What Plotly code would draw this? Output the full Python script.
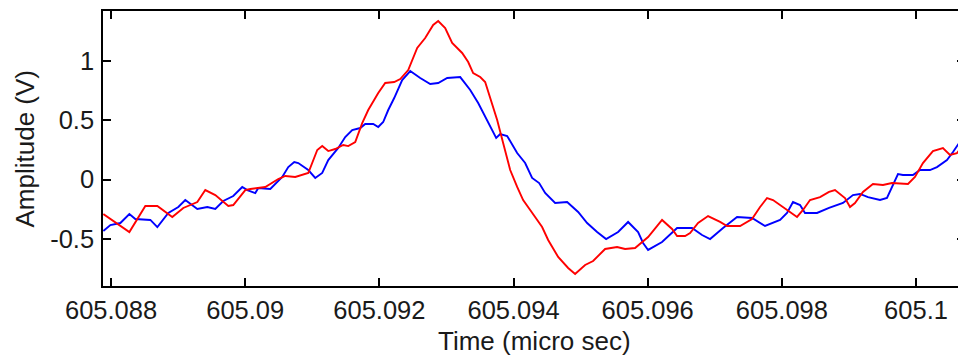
import plotly.graph_objects as go

# Time (micro sec) and amplitude (V) for the red trace
t_red = [605.087885, 605.088273, 605.088511, 605.08869, 605.088913, 605.089077, 605.089286,
         605.089405, 605.089554, 605.089748, 605.089822, 605.090001, 605.090076, 605.090299,
         605.090493, 605.090597, 605.090746, 605.09094, 605.091074, 605.091148, 605.091238,
         605.091342, 605.091461, 605.091536, 605.09164, 605.091744, 605.091834, 605.091983,
         605.092087, 605.092221, 605.092311, 605.09243, 605.092564, 605.092683, 605.092802,
         605.092877, 605.092981, 605.093085, 605.093234, 605.093324, 605.093398, 605.093503,
         605.093577, 605.093652, 605.093756, 605.093845, 605.09395, 605.094054, 605.094143,
         605.094248, 605.094367, 605.094426, 605.094516, 605.094665, 605.094814, 605.094918,
         605.095067, 605.095186, 605.095365, 605.095544, 605.095663, 605.095812, 605.096006,
         605.096214, 605.096363, 605.096438, 605.096557, 605.096632, 605.096751, 605.0969,
         605.097079, 605.097183, 605.097377, 605.097555, 605.097675, 605.097779, 605.097868,
         605.098077, 605.098226, 605.098315, 605.09842, 605.098569, 605.098703, 605.098792,
         605.098941, 605.099016, 605.09909, 605.099209, 605.099358, 605.099507, 605.099641,
         605.09988, 605.099984, 605.100103, 605.100252, 605.100401, 605.100506, 605.10061,
         605.100699, 605.100744]
v_red = [-0.291, -0.443, -0.223, -0.223, -0.316, -0.240, -0.190,
         -0.089, -0.131, -0.223, -0.215, -0.089, -0.080, -0.063,
         0.004, 0.030, 0.021, 0.055, 0.249, 0.282, 0.240,
         0.257, 0.291, 0.282, 0.316, 0.476, 0.586, 0.729,
         0.814, 0.822, 0.847, 0.923, 1.109, 1.193, 1.303,
         1.336, 1.277, 1.151, 1.067, 0.991, 0.898, 0.864,
         0.822, 0.687, 0.502, 0.308, 0.080, -0.063, -0.173,
         -0.257, -0.358, -0.401, -0.510, -0.653, -0.746, -0.797,
         -0.721, -0.687, -0.586, -0.569, -0.586, -0.578, -0.485,
         -0.341, -0.417, -0.476, -0.476, -0.451, -0.367, -0.308,
         -0.358, -0.392, -0.392, -0.333, -0.232, -0.156, -0.173,
         -0.257, -0.316, -0.257, -0.173, -0.148, -0.105, -0.089,
         -0.156, -0.232, -0.198, -0.105, -0.038, -0.046, -0.030,
         -0.038, 0.021, 0.139, 0.240, 0.266, 0.207, 0.223,
         0.291, 0.316]

# Time (micro sec) and amplitude (V) for the blue trace
t_blue = [605.087885, 605.08799, 605.088139, 605.088273, 605.088362, 605.088586, 605.08869,
          605.088854, 605.089003, 605.089107, 605.089286, 605.089435, 605.089554, 605.089673,
          605.089822, 605.089956, 605.090031, 605.09015, 605.090195, 605.090374, 605.090552,
          605.090642, 605.090731, 605.090791, 605.09094, 605.091044, 605.091148, 605.091238,
          605.091387, 605.091491, 605.091595, 605.091715, 605.091789, 605.091908, 605.091983,
          605.092057, 605.092132, 605.092221, 605.09234, 605.09246, 605.092609, 605.092758,
          605.092877, 605.093011, 605.093205, 605.093354, 605.093473, 605.093577, 605.093681,
          605.093741, 605.093801, 605.093905, 605.094054, 605.094173, 605.094277, 605.094382,
          605.094471, 605.09462, 605.094799, 605.094963, 605.095097, 605.095246, 605.09538,
          605.095559, 605.095708, 605.095857, 605.095931, 605.096006, 605.096214, 605.096334,
          605.096438, 605.096557, 605.096661, 605.09681, 605.09693, 605.097123, 605.097332,
          605.097555, 605.097749, 605.097973, 605.098077, 605.098166, 605.098271, 605.098345,
          605.098524, 605.098703, 605.098911, 605.09906, 605.099165, 605.099284, 605.099463,
          605.099567, 605.099641, 605.099731, 605.099805, 605.099954, 605.100059, 605.100208,
          605.100312, 605.100461, 605.100551, 605.100655, 605.100744]
v_blue = [-0.434, -0.384, -0.367, -0.291, -0.333, -0.341, -0.401,
          -0.282, -0.232, -0.173, -0.249, -0.232, -0.249, -0.181,
          -0.139, -0.063, -0.089, -0.114, -0.072, -0.080, 0.021,
          0.105, 0.148, 0.139, 0.080, 0.013, 0.055, 0.164,
          0.266, 0.358, 0.417, 0.434, 0.468, 0.468, 0.443,
          0.485, 0.586, 0.687, 0.839, 0.915, 0.856, 0.805,
          0.814, 0.856, 0.864, 0.755, 0.645, 0.527, 0.417,
          0.350, 0.384, 0.367, 0.223, 0.139, 0.013, -0.030,
          -0.114, -0.198, -0.190, -0.274, -0.367, -0.443, -0.502,
          -0.443, -0.358, -0.443, -0.535, -0.594, -0.527, -0.468,
          -0.409, -0.409, -0.409, -0.468, -0.502, -0.409, -0.316,
          -0.325, -0.392, -0.341, -0.282, -0.190, -0.215, -0.282,
          -0.282, -0.240, -0.198, -0.131, -0.122, -0.148, -0.173,
          -0.156, -0.063, 0.046, 0.038, 0.038, 0.080, 0.080,
          0.105, 0.164, 0.232, 0.316, 0.392]

x_tickvals = [605.088, 605.090, 605.092, 605.094, 605.096, 605.098, 605.100]
x_ticktext = ["605.088", "605.09", "605.092", "605.094", "605.096", "605.098", "605.1"]
y_tickvals = [-0.5, 0, 0.5, 1]
y_ticktext = ["-0.5", "0", "0.5", "1"]
x_title = "Time (micro sec)"
y_title = "Amplitude (V)"

FONT = "Liberation Sans, Arial, sans-serif"
TXT = "#1a1a1a"

fig = go.Figure()
fig.add_trace(go.Scatter(x=t_blue, y=v_blue, mode="lines",
                         line=dict(color="#0000ff", width=1.9), showlegend=False))
fig.add_trace(go.Scatter(x=t_red, y=v_red, mode="lines",
                         line=dict(color="#ff0000", width=1.9), showlegend=False))

axis_common = dict(ticks="inside", ticklen=8, tickwidth=1.5, tickcolor="black",
                   showline=True, linecolor="black", linewidth=1.5, mirror="ticks",
                   showgrid=False, zeroline=False, automargin=False,
                   tickfont=dict(family=FONT, size=25.5, color=TXT))

# the page body has an 8px margin, so the figure is 8px smaller and shifted
fig.update_layout(
    width=958, height=352,
    margin=dict(l=95, r=1, t=3, b=74, autoexpand=False),
    paper_bgcolor="white", plot_bgcolor="white",
    font=dict(family=FONT, size=25, color=TXT),
    xaxis=dict(range=[605.08788, 605.10073], tickvals=x_tickvals, ticktext=x_ticktext,
               ticklabelstandoff=1, **axis_common),
    yaxis=dict(range=[-0.898, 1.421], tickvals=y_tickvals, ticktext=y_ticktext,
               ticklabelstandoff=2, **axis_common),
    annotations=[
        dict(text=x_title, xref="paper", yref="paper", x=0.5, y=-0.2,
             xanchor="center", yanchor="middle", showarrow=False,
             font=dict(family=FONT, size=26, color=TXT)),
        dict(text=y_title, xref="paper", yref="paper", x=-0.0905, y=0.5,
             xanchor="center", yanchor="middle", showarrow=False, textangle=-90,
             font=dict(family=FONT, size=26, color=TXT)),
    ],
)

fig.write_html("out.html")
